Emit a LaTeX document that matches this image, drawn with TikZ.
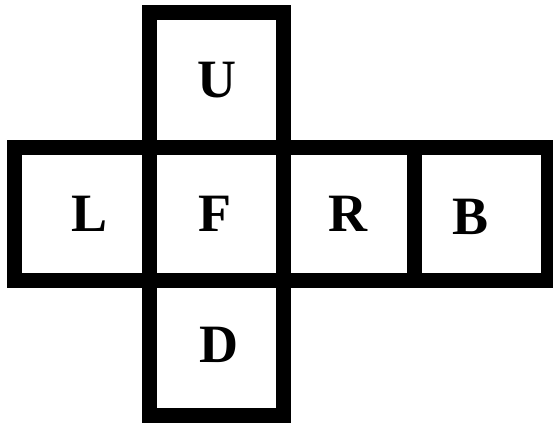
\documentclass[tikz,border=0pt]{standalone}
\usepackage{fontspec}
\setmainfont{Liberation Serif}
\tikzset{
  face/.style={draw=black, line width=15pt, rectangle, inner sep=0pt, outer sep=0pt},
  letter/.style={font=\fontsize{54}{54}\selectfont\bfseries, inner sep=0pt}
}
\begin{document}
\begin{tikzpicture}[x=1pt,y=-1pt]
\useasboundingbox (0,0) rectangle (553,425);
% faces: grid lines x: 14.5,149.5,283,414.5,548 ; y: 12.5,147,280.5,415
\node[face, minimum width=133.5pt, minimum height=134.5pt] (fU) at (216.25,79.75) {};
\node[face, minimum width=135pt, minimum height=133.5pt] (fL) at (82,213.75) {};
\node[face, minimum width=133.5pt, minimum height=133.5pt] (fF) at (216.25,213.75) {};
\node[face, minimum width=131.5pt, minimum height=133.5pt] (fR) at (348.75,213.75) {};
\node[face, minimum width=133.5pt, minimum height=133.5pt] (fB) at (481.25,213.75) {};
\node[face, minimum width=133.5pt, minimum height=134.5pt] (fD) at (216.25,347.75) {};
% letters
\node[letter] (tU) at ([xshift=1pt]fU.center) {U};
\node[letter] (tL) at ([xshift=8pt]fL.center) {L};
\node[letter] (tF) at ([xshift=-1pt]fF.center) {F};
\node[letter] (tR) at ([xshift=-1pt]fR.center) {R};
\node[letter] (tB) at ([xshift=-11pt,yshift=-3pt]fB.center) {B};
\node[letter] (tD) at ([xshift=3pt,yshift=3pt]fD.center) {D};
\end{tikzpicture}
\end{document}
